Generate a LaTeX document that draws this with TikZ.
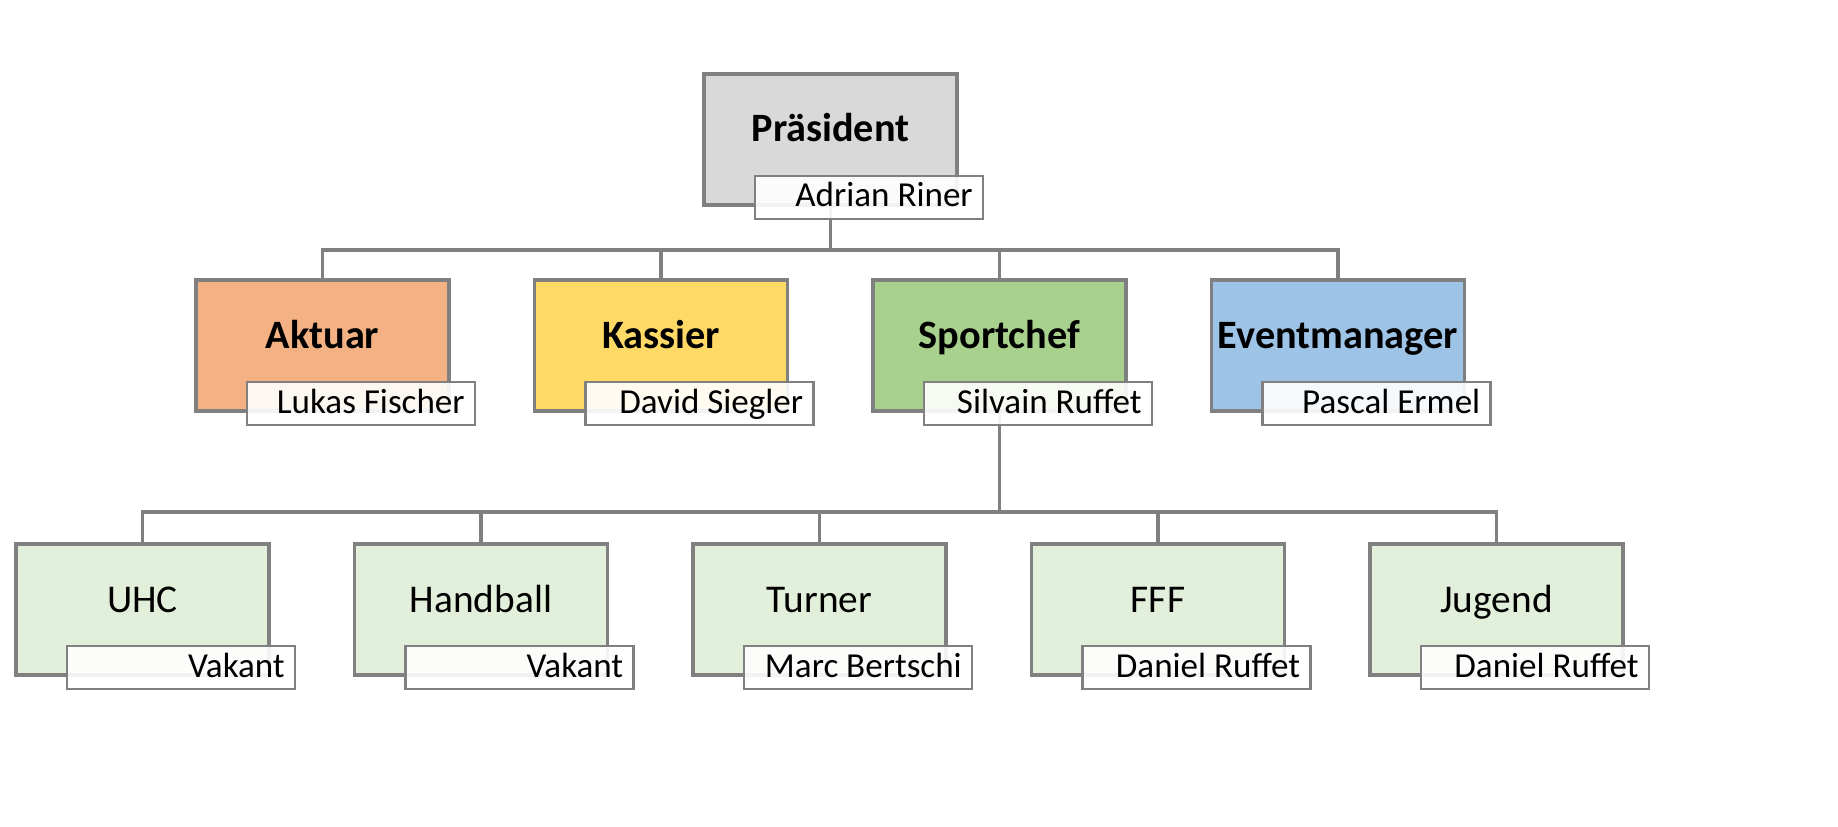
\documentclass[tikz,border=0pt]{standalone}
\usepackage{fontspec}
\setmainfont{Carlito}
\definecolor{lgray}{HTML}{808080}
\definecolor{cpres}{HTML}{D9D9D9}
\definecolor{cakt}{HTML}{F4B183}
\definecolor{ckas}{HTML}{FFD966}
\definecolor{cspo}{HTML}{A9D18E}
\definecolor{ceve}{HTML}{9DC3E6}
\definecolor{csub}{HTML}{E2EFDA}
\tikzset{
  box/.style={draw=lgray, line width=2.4pt, minimum width=189.75pt, minimum height=98.25pt, inner sep=0pt},
  namebox/.style={draw=lgray, line width=1.9pt, fill=white, fill opacity=0.9, minimum width=171pt, minimum height=32.25pt, inner sep=0pt},
  ttl/.style={anchor=base, inner sep=0pt, font=\fontsize{30.2}{31}\selectfont\bfseries},
  sttl/.style={anchor=base, inner sep=0pt, font=\fontsize{29.5}{31}\selectfont},
  nm/.style={anchor=base east, inner sep=0pt, font=\fontsize{26.3}{27}\selectfont},
  conn/.style={draw=lgray, line width=2.5pt}
}
\begin{document}
\begin{tikzpicture}[x=0.75pt, y=-0.75pt]
\useasboundingbox[fill=white] (0,0) rectangle (1838,827);
% main boxes
\node[box, fill=cpres] (pres) at (830.5,139.5) {};
\node[box, fill=cakt] (akt) at (322.5,345.5) {};
\node[box, fill=ckas] (kas) at (661,345.5) {};
\node[box, fill=cspo] (spo) at (999.5,345.5) {};
\node[box, fill=ceve] (eve) at (1338,345.5) {};
\node[box, fill=csub] (uhc) at (142.5,609.5) {};
\node[box, fill=csub] (hand) at (481,609.5) {};
\node[box, fill=csub] (turn) at (819.5,609.5) {};
\node[box, fill=csub] (fff) at (1158,609.5) {};
\node[box, fill=csub] (jug) at (1496.5,609.5) {};
% titles
\node[ttl] (pres-t) at (830.5,142) {Präsident};
\node[ttl] (akt-t) at (322.5,348) {Aktuar};
\node[ttl] (kas-t) at (661,348) {Kassier};
\node[ttl] (spo-t) at (999.5,348) {Sportchef};
\node[ttl] (eve-t) at (1338,348) {Eventmanager};
\node[sttl] (uhc-t) at (142.5,612) {UHC};
\node[sttl] (hand-t) at (481,612) {Handball};
\node[sttl] (turn-t) at (819.5,612) {Turner};
\node[sttl] (fff-t) at (1158,612) {FFF};
\node[sttl] (jug-t) at (1496.5,612) {Jugend};
% connectors
\coordinate (j1) at (830.5,250);
\coordinate (j2) at (999.5,512);
\draw[conn] (pres.south) -- (j1);
\draw[conn] (j1) -| (akt.north);
\draw[conn] (j1) -| (kas.north);
\draw[conn] (j1) -| (spo.north);
\draw[conn] (j1) -| (eve.north);
\draw[conn] (spo.south) -- (j2);
\draw[conn] (j2) -| (uhc.north);
\draw[conn] (j2) -| (hand.north);
\draw[conn] (j2) -| (turn.north);
\draw[conn] (j2) -| (fff.north);
\draw[conn] (j2) -| (jug.north);
% name boxes
\node[namebox] (pres-n) at (869,197.5) {};
\node[namebox] (akt-n) at (361,403.5) {};
\node[namebox] (kas-n) at (699.5,403.5) {};
\node[namebox] (spo-n) at (1038,403.5) {};
\node[namebox] (eve-n) at (1376.5,403.5) {};
\node[namebox] (uhc-n) at (181,667.5) {};
\node[namebox] (hand-n) at (519.5,667.5) {};
\node[namebox] (turn-n) at (858,667.5) {};
\node[namebox] (fff-n) at (1196.5,667.5) {};
\node[namebox] (jug-n) at (1535,667.5) {};
% names
\node[nm] at (973,207) {Adrian Riner};
\node[nm] at (465,413) {Lukas Fischer};
\node[nm] at (803.5,413) {David Siegler};
\node[nm] at (1142,413) {Silvain Ruffet};
\node[nm] at (1480.5,413) {Pascal Ermel};
\node[nm] at (285,677) {Vakant};
\node[nm] at (623.5,677) {Vakant};
\node[nm] at (962,677) {Marc Bertschi};
\node[nm] at (1300.5,677) {Daniel Ruffet};
\node[nm] at (1639,677) {Daniel Ruffet};
\end{tikzpicture}
\end{document}
